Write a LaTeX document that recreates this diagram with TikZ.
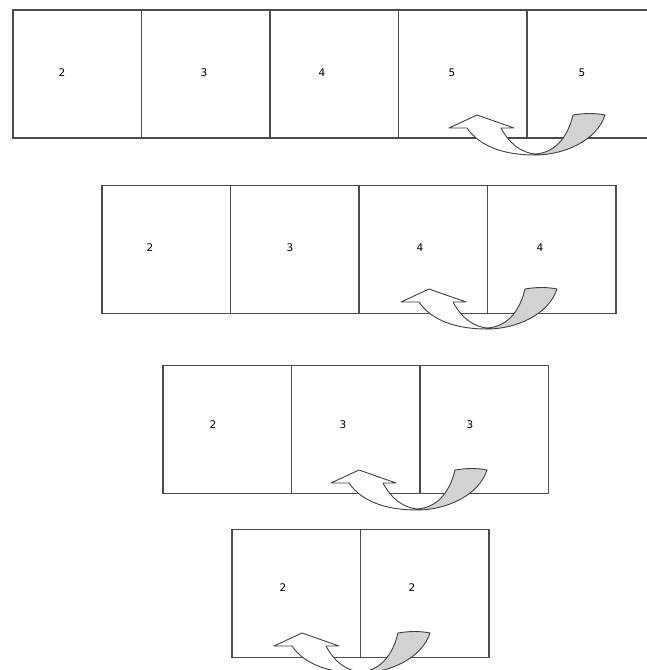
\documentclass[tikz,border=0pt]{standalone}
\usepackage{fontspec}
\setsansfont{DejaVu Sans}
\usetikzlibrary{positioning}

\begin{document}
\begin{tikzpicture}[x=1pt, y=-1pt,
            cell/.style={draw=black!70, line width=1.2pt, minimum width=128.5pt, minimum height=128pt, inner sep=0pt, outer sep=0pt},
            num/.style={font=\sffamily\fontsize{10.5}{12}\selectfont, text=black, inner sep=0pt},
            swaparrow/.pic={
              \draw[draw=black!75, fill=gray!35, line width=0.9pt] (0,-1) .. controls (18,-2) and (32,-15) .. (38,-40)
                .. controls (50,-42) and (60,-42) .. (70,-40) .. controls (62,-15) and (30,0) .. (0,0) -- cycle;
              \draw[draw=black!75, fill=white, line width=0.9pt, line join=round] (-58,-40) -- (-21,-27) -- (-34,-27)
                .. controls (-25,-10) and (-12,-2) .. (0,-1) -- (0,0) .. controls (-30,0) and (-55,-8) .. (-68,-27)
                -- (-86,-27) -- cycle;
            },
          ]
          \useasboundingbox (0,0) rectangle (647,670);
          % five cells
          \node[cell] (a0) at (77.25,74) {};
          \node[cell, right=0pt of a0] (a1) {};
          \node[cell, right=0pt of a1] (a2) {};
          \node[cell, right=0pt of a2] (a3) {};
          \node[cell, right=0pt of a3] (a4) {};
          \node[num] (na0) at (62,73) {2};
          \node[num] (na1) at (204,73) {3};
          \node[num] (na2) at (322,73) {4};
          \node[num] (na3) at (452,73) {5};
          \node[num] (na4) at (582,73) {5};
          \pic at (535,155) {swaparrow};
          % four cells
          \node[cell] (b0) at (166.25,249.5) {};
          \node[cell, right=0pt of b0] (b1) {};
          \node[cell, right=0pt of b1] (b2) {};
          \node[cell, right=0pt of b2] (b3) {};
          \node[num] (nb0) at (150,248) {2};
          \node[num] (nb1) at (290,248) {3};
          \node[num] (nb2) at (420,248) {4};
          \node[num] (nb3) at (540,248) {4};
          \pic at (487,329) {swaparrow};
          % three cells
          \node[cell] (c0) at (227.25,429.5) {};
          \node[cell, right=0pt of c0] (c1) {};
          \node[cell, right=0pt of c1] (c2) {};
          \node[num] (nc0) at (213,425) {2};
          \node[num] (nc1) at (343,425) {3};
          \node[num] (nc2) at (470,425) {3};
          \pic at (417,510) {swaparrow};
          % two cells
          \node[cell] (d0) at (296.25,593.5) {};
          \node[cell, right=0pt of d0] (d1) {};
          \node[num] (nd0) at (283,588) {2};
          \node[num] (nd1) at (412,588) {2};
          \pic at (360,673) {swaparrow};
        \end{tikzpicture}
\end{document}
